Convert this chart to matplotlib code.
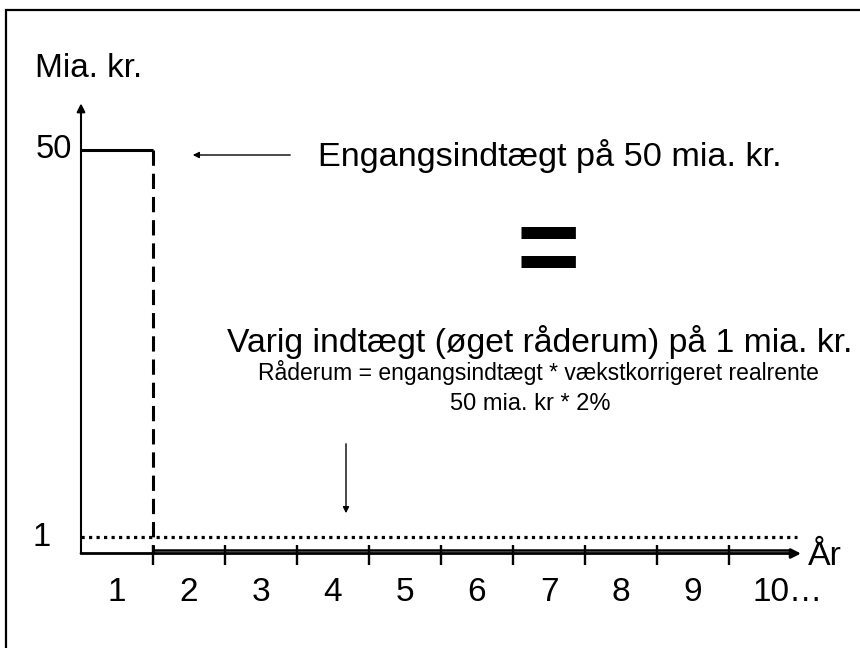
import matplotlib
matplotlib.use('Agg')
import matplotlib.pyplot as plt
from matplotlib.patches import Rectangle, FancyArrowPatch
import matplotlib.transforms as mtransforms
import numpy as np

plt.rcParams['font.family'] = ['Liberation Sans', 'DejaVu Sans']

# Data
years = [1, 2, 3, 4, 5, 6, 7, 8, 9, 10]
year_labels = ['1', '2', '3', '4', '5', '6', '7', '8', '9', '10…']
tick_pos = [1, 2, 3, 4, 5, 6, 7, 8, 9]
one_off = 50     # engangsindtægt, år 1
lasting = 1      # varig indtægt pr. år
x_end = 10

W, H = 860, 648
fig = plt.figure(figsize=(W / 100, H / 100), dpi=100)


def px(x, y):
    # pixel (top-origin) -> figure fraction
    return x / W, 1 - y / H


# schematic y scale: the bottom unit is stretched so 1 is visible
def fwd(y):
    y = np.asarray(y, dtype=float)
    return np.where(y <= 1, 2 * y, 2 + (y - 1) * 48 / 49)


def inv(v):
    v = np.asarray(v, dtype=float)
    return np.where(v <= 2, v / 2, 1 + (v - 2) * 49 / 48)


ax = fig.add_axes([81 / W, (H - 553.5) / H, 720 / W, 403.5 / H])
ax.set_yscale('function', functions=(fwd, inv))
ax.set_xlim(0, 10)
ax.set_ylim(0, 50)
ax.axis('off')

# frame round the figure
fig.patches.append(Rectangle(px(6, 655), (870 - 6) / W, (655 - 10) / H,
                             transform=fig.transFigure, fill=False,
                             lw=1.6, ec='black'))

# one-off income
ax.plot([0, 1], [one_off, one_off], color='black', lw=2.2,
        solid_capstyle='butt', clip_on=False)
ax.plot([1, 1], [one_off, 0], color='black', lw=2.2,
        linestyle=(0, (5, 2.6)), clip_on=False)

# lasting income (dotted) at 1
ax.plot([0, 9.95], [lasting, lasting], color='black', lw=2.3,
        linestyle=(0, (1, 1.35)), dash_capstyle='butt', clip_on=False)

# axes with arrows
ax.annotate('', xy=(0, 55.9), xytext=(0, 0),
            arrowprops=dict(arrowstyle='-|>', lw=1.5, color='black',
                            mutation_scale=12, shrinkA=0, shrinkB=0),
            annotation_clip=False)
ax.annotate('', xy=(x_end, 0), xytext=(0, 0),
            arrowprops=dict(arrowstyle='-|>', lw=2.0, color='black',
                            mutation_scale=14, shrinkA=0, shrinkB=0),
            annotation_clip=False)
up = mtransforms.offset_copy(ax.transData, fig=fig, x=0, y=3.4, units='dots')
ax.plot([1, 9.85], [0, 0], color='black', lw=1.8, solid_capstyle='butt',
        transform=up, clip_on=False)

# tick marks
tick_tr = mtransforms.offset_copy(ax.transData, fig=fig, x=0, y=-1.5,
                                  units='dots')
ax.plot(tick_pos, [0] * len(tick_pos), linestyle='none', marker='|',
        markersize=15, markeredgewidth=1.7, color='black',
        transform=tick_tr, clip_on=False)

# tick labels
lab_tr = mtransforms.offset_copy(ax.transData, fig=fig, x=0, y=-39,
                                 units='dots')
for i, lab in enumerate(year_labels):
    if lab.endswith('…'):
        ax.text(years[i] - 0.67, 0, lab, ha='left', va='center',
                fontsize=24, transform=lab_tr, clip_on=False)
    else:
        ax.text(years[i] - 0.5, 0, lab, ha='center', va='center',
                fontsize=24, transform=lab_tr, clip_on=False)

ax.text(-0.12, one_off, '50', ha='right', va='center', fontsize=23.5)
ax.text(-0.42, lasting, '1', ha='right', va='center', fontsize=23.5)

fig.text(*px(35, 77), 'Mia. kr.', ha='left', va='baseline', fontsize=24)
fig.text(*px(808, 565), 'År', ha='left', va='baseline', fontsize=24.5)

fig.text(*px(318, 166), 'Engangsindtægt på 50 mia. kr.', ha='left',
         va='baseline', fontsize=24.7)
fig.text(*px(548, 255), '=', ha='center', va='center', fontsize=78,
         fontweight='bold')
fig.text(*px(540, 352), 'Varig indtægt (øget råderum) på 1 mia. kr.',
         ha='center', va='baseline', fontsize=24.3)
fig.text(*px(538, 380), 'Råderum = engangsindtægt * vækstkorrigeret realrente',
         ha='center', va='baseline', fontsize=16.5)
fig.text(*px(530, 410), '50 mia. kr * 2%', ha='center', va='baseline',
         fontsize=17)

# pointer arrows
fig.add_artist(FancyArrowPatch(
    px(293, 155), px(190, 155), transform=fig.transFigure,
    arrowstyle='-|>', mutation_scale=9, lw=1.0, color='black'))
fig.add_artist(FancyArrowPatch(
    px(346, 441), px(346, 516), transform=fig.transFigure,
    arrowstyle='-|>', mutation_scale=9, lw=1.0, color='black'))

fig.savefig('out.png', dpi=100)
